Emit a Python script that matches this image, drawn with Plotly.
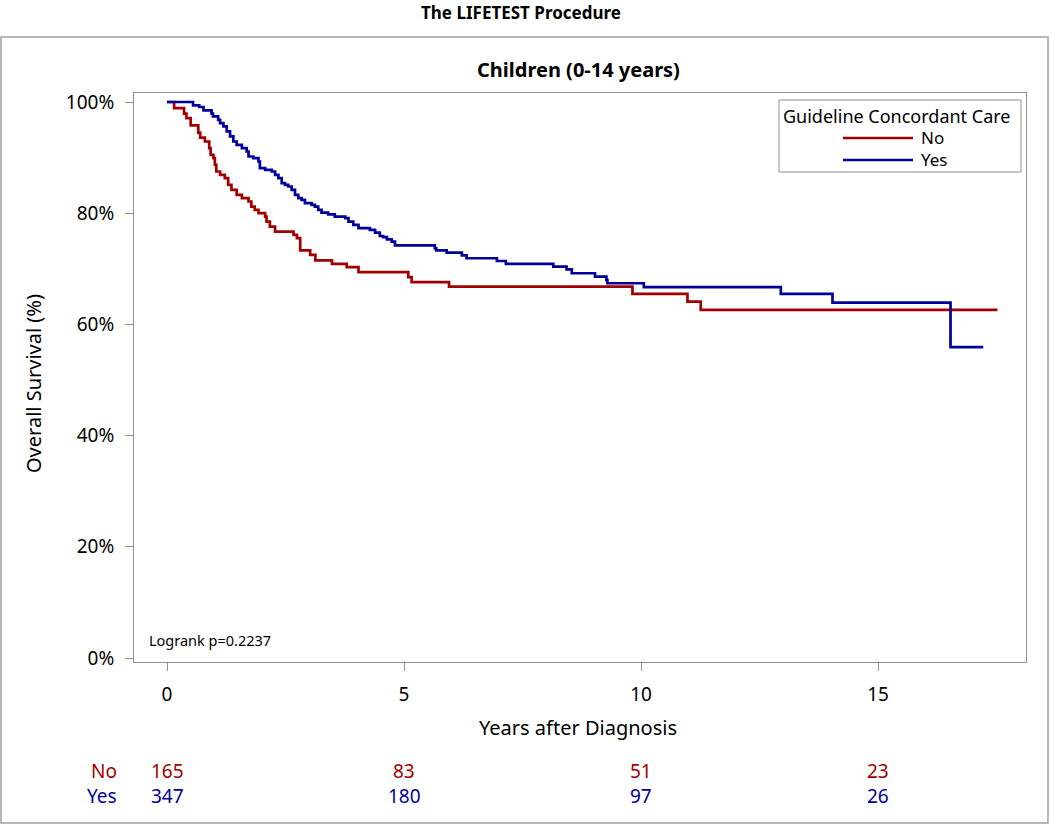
import plotly.graph_objects as go

# ---------------- data ----------------
groups = ["No", "Yes"]
colors = {"No": "#A00000", "Yes": "#000099"}

t_no = [0, 0.15, 0.36, 0.41, 0.50, 0.66, 0.70, 0.80, 0.89, 0.92, 0.98, 1.01, 1.04, 1.12,
        1.22, 1.29, 1.36, 1.47, 1.58, 1.72, 1.78, 1.85, 1.93, 2.07, 2.10, 2.17, 2.28,
        2.67, 2.74, 2.81, 3.02, 3.13, 3.48, 3.79, 4.04, 5.09, 5.16, 5.95, 9.82, 10.98,
        11.26, 17.52]
s_no = [100, 98.9, 97.9, 97.1, 95.8, 94.5, 93.6, 92.9, 91.7, 90.5, 89.9, 88.7, 87.5, 86.9,
        86.3, 85.1, 84.2, 83.3, 82.7, 82.1, 81.2, 80.6, 80.0, 79.4, 78.5, 77.6, 76.7,
        76.1, 75.5, 73.3, 72.5, 71.5, 70.9, 70.3, 69.4, 68.5, 67.6, 66.8, 65.5, 64.1,
        62.6, 62.6]

t_yes = [0, 0.55, 0.68, 0.77, 0.94, 0.97, 1.08, 1.12, 1.19, 1.26, 1.33, 1.40, 1.47, 1.58,
         1.68, 1.72, 1.82, 1.93, 1.96, 2.07, 2.21, 2.28, 2.35, 2.42, 2.49, 2.56, 2.63,
         2.70, 2.77, 2.84, 2.91, 3.05, 3.12, 3.19, 3.26, 3.40, 3.54, 3.76, 3.83, 3.93,
         4.04, 4.28, 4.39, 4.49, 4.56, 4.64, 4.74, 4.81, 5.65, 5.68, 5.90, 6.22, 6.32,
         6.96, 7.15, 8.15, 8.43, 8.54, 9.03, 9.27, 9.29, 10.06, 12.95, 14.04, 16.53, 17.22]
s_yes = [100, 99.4, 99.1, 98.5, 97.9, 97.4, 96.8, 96.2, 95.6, 94.7, 93.8, 92.9, 92.3, 91.7,
         91.1, 90.2, 89.9, 89.3, 88.1, 87.8, 87.5, 86.9, 86.3, 85.4, 85.1, 84.8, 84.2,
         83.3, 82.7, 82.4, 81.8, 81.5, 81.2, 80.6, 80.1, 79.8, 79.4, 79.1, 78.5, 77.9,
         77.3, 77.0, 76.5, 75.9, 75.7, 75.3, 74.9, 74.2, 73.7, 73.3, 72.9, 72.4, 71.9,
         71.4, 70.9, 70.4, 69.9, 69.2, 68.6, 68.0, 67.4, 66.7, 65.5, 63.9, 55.9, 55.9]

risk_times = [0, 5, 10, 15]
risk_no = [165, 83, 51, 23]
risk_yes = [347, 180, 97, 26]

x_ticks = [0, 5, 10, 15]
y_ticks = [0, 20, 40, 60, 80, 100]
y_tick_labels = ["0%", "20%", "40%", "60%", "80%", "100%"]

main_title = "The LIFETEST Procedure"
sub_title = "Children (0-14 years)"
x_title = "Years after Diagnosis"
y_title = "Overall Survival (%)"
legend_title = "Guideline Concordant Care"
logrank_text = "Logrank p=0.2237"

# ---------------- layout geometry ----------------
W, H = 1050, 825
L, R, T, B = 134, 1026, 93, 662   # plot frame in pixels
FONT = "Noto Sans"
FRAME = "#8F8F8F"


def px(x):
    return (x - L) / (R - L)


def py(y):
    return (B - y) / (B - T)


fig = go.Figure()
series = {"No": (t_no, s_no), "Yes": (t_yes, s_yes)}
for g in groups:
    t, s = series[g]
    fig.add_trace(go.Scatter(x=t, y=s, mode="lines", line_shape="hv", name=g,
                             line=dict(color=colors[g], width=2.7), showlegend=False,
                             hoverinfo="x+y"))


def note(text, x, y, size, color="black", xanchor="center", xref="paper", angle=0):
    return dict(text=text, x=x, y=y, xref=xref, yref="paper", showarrow=False,
                font=dict(size=size, color=color), xanchor=xanchor, yanchor="middle",
                textangle=angle, borderpad=0, align="left")


annotations = [
    note("<b>" + main_title + "</b>", px(521), py(13), 17),
    note("<b>" + sub_title + "</b>", px(578), py(70), 20),
    note(x_title, px(578), py(727), 20),
    note(y_title, px(33), py(384), 20, angle=-90),
    note(logrank_text, px(148), py(640), 14.5, xanchor="left"),
]

# number at risk
risk = {"No": risk_no, "Yes": risk_yes}
row_y = {"No": 771, "Yes": 796}
for g in groups:
    annotations.append(note(g, px(118), py(row_y[g]), 19, colors[g], xanchor="right"))
    for tt, n in zip(risk_times, risk[g]):
        annotations.append(note(str(n), tt, py(row_y[g]), 19, colors[g], xref="x"))

# manual legend
annotations.append(note(legend_title, px(897), py(116), 18))
annotations.append(note("<br>".join(groups), px(920), py(149), 17, xanchor="left"))
leg_y = {"No": 138, "Yes": 160}
shapes = []
for g in groups:
    shapes.append(dict(type="line", xref="paper", yref="paper", x0=px(843), x1=px(913),
                       y0=py(leg_y[g]), y1=py(leg_y[g]),
                       line=dict(color=colors[g], width=2.7)))
shapes.append(dict(type="rect", xref="paper", yref="paper", x0=px(779), x1=px(1021),
                   y0=py(172), y1=py(100), line=dict(color=FRAME, width=1)))
# outer border
shapes.append(dict(type="rect", xref="paper", yref="paper", x0=px(1), x1=px(1048),
                   y0=py(823), y1=py(37), line=dict(color="#A0A0A0", width=1.5)))

xmin = (L - 167) / 47.4
xmax = (R - 167) / 47.4
ymin = (658 - B) / 5.56
ymax = (658 - T) / 5.56

fig.update_layout(
    width=W, height=H,
    margin=dict(l=L, r=W - R, t=T, b=H - B, pad=0),
    paper_bgcolor="white", plot_bgcolor="white",
    font=dict(family=FONT, color="black"),
    annotations=annotations, shapes=shapes,
    showlegend=False,
    xaxis=dict(range=[xmin, xmax], tickvals=x_ticks, ticks="outside", ticklen=8,
               tickcolor=FRAME, showline=True, linecolor=FRAME, linewidth=1, mirror=True,
               showgrid=False, zeroline=False, tickfont=dict(size=19), ticklabelstandoff=7),
    yaxis=dict(range=[ymin, ymax], tickvals=y_ticks, ticktext=y_tick_labels,
               ticks="outside", ticklen=8, tickcolor=FRAME, showline=True, linecolor=FRAME,
               linewidth=1, mirror=True, showgrid=False, zeroline=False,
               tickfont=dict(size=19), ticklabelstandoff=7),
)

fig.write_html("out.html", config={"displayModeBar": False},
               post_script="document.body.style.margin='0px';")
